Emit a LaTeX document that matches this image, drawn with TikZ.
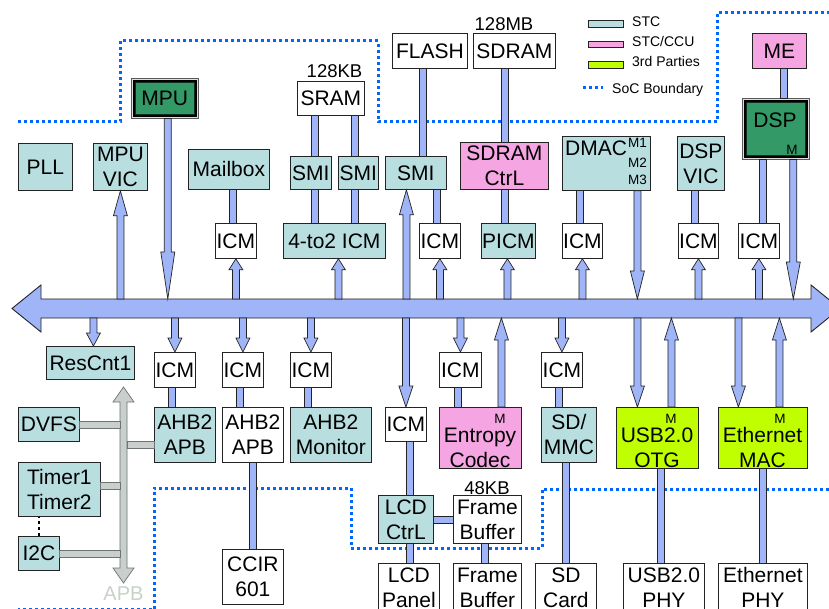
\documentclass[tikz,border=0pt]{standalone}
\usepackage{fontspec}
\setmainfont{Liberation Sans}
\usetikzlibrary{calc}
\definecolor{stc}{RGB}{184,222,224}
\definecolor{ccu}{RGB}{245,165,225}
\definecolor{third}{RGB}{191,255,0}
\definecolor{dspg}{RGB}{51,153,102}
\definecolor{busb}{RGB}{160,180,248}
\definecolor{apbg}{RGB}{200,207,205}
\definecolor{apbe}{RGB}{110,115,115}
\definecolor{socb}{RGB}{0,102,255}
\definecolor{edge}{RGB}{35,35,35}
\definecolor{apbtxt}{RGB}{200,210,200}
\newcommand{\bx}[7]{\node[#1, minimum width={(#5-#3)*1pt}, minimum height={(#6-#4)*1pt}, anchor=north west] (#2) at (#3,#4) {#7};}
\tikzset{
  big/.style={font=\fontsize{21}{25}\selectfont},
  mid/.style={font=\fontsize{18.5}{21}\selectfont, inner sep=0pt},
  sml/.style={font=\fontsize{13.5}{15}\selectfont, inner sep=0pt},
  leg/.style={font=\fontsize{14}{16}\selectfont, inner sep=0pt},
  blk/.style={big, draw=edge, line width=0.8pt, inner sep=0pt, align=center},
  wbox/.style={blk, fill=white},
  tbox/.style={blk, fill=stc},
  pbox/.style={blk, fill=ccu},
  gbox/.style={blk, fill=third},
  txt/.style={big, inner sep=0pt, align=center},
  soc/.style={socb, line width=3pt, dash pattern=on 3pt off 3pt},
  fat/.style={draw=edge, fill=busb, line width=0.7pt, line join=miter},
  shaft/.style={fat, to path={let \p1=(\tikztostart), \p2=(\tikztotarget) in
      (\x1-3.5pt,\y1) rectangle (\x1+3.5pt,\y2)}},
  hshaft/.style={fat, to path={let \p1=(\tikztostart), \p2=(\tikztotarget) in
      (\x1,\y1-3.5pt) rectangle (\x2,\y1+3.5pt)}},
  gshaft/.style={hshaft, fill=apbg, draw=apbe},
  adn/.style={fat, to path={let \p1=(\tikztostart), \p2=(\tikztotarget) in
      (\x1-3.5pt,\y1) -- (\x1-3.5pt,\y2+#1pt) -- (\x1-7pt,\y2+#1pt) -- (\x1,\y2)
      -- (\x1+7pt,\y2+#1pt) -- (\x1+3.5pt,\y2+#1pt) -- (\x1+3.5pt,\y1) -- cycle}},
  aup/.style={fat, to path={let \p1=(\tikztostart), \p2=(\tikztotarget) in
      (\x1-3.5pt,\y1) -- (\x1-3.5pt,\y2-#1pt) -- (\x1-7pt,\y2-#1pt) -- (\x1,\y2)
      -- (\x1+7pt,\y2-#1pt) -- (\x1+3.5pt,\y2-#1pt) -- (\x1+3.5pt,\y1) -- cycle}},
  bdn/.style={fat, to path={let \p1=(\tikztostart), \p2=(\tikztotarget) in
      (\x2-3.5pt,\y1) -- (\x2-3.5pt,\y2+#1pt) -- (\x2-7pt,\y2+#1pt) -- (\x2,\y2)
      -- (\x2+7pt,\y2+#1pt) -- (\x2+3.5pt,\y2+#1pt) -- (\x2+3.5pt,\y1) -- cycle}},
  bup/.style={fat, to path={let \p1=(\tikztostart), \p2=(\tikztotarget) in
      (\x2-3.5pt,\y1) -- (\x2-3.5pt,\y2-#1pt) -- (\x2-7pt,\y2-#1pt) -- (\x2,\y2)
      -- (\x2+7pt,\y2-#1pt) -- (\x2+3.5pt,\y2-#1pt) -- (\x2+3.5pt,\y1) -- cycle}},
}
\begin{document}
\begin{tikzpicture}[x=1pt,y=-1pt]
\useasboundingbox (0,0) rectangle (829,609);
\clip (0,0) rectangle (829,609);
\fill[white] (0,0) rectangle (829,609);

% SoC boundary
\draw[soc] (18,122) -- (120,122) -- (120,41) -- (378,41) -- (378,122) -- (717,122) -- (717,13) -- (835,13);
\draw[soc] (835,489) -- (542,489) -- (542,548) -- (351,548) -- (351,488) -- (154,488) -- (154,609.8) -- (18,609.8);

% legend
\bx{draw=edge,fill=stc,line width=0.8pt,inner sep=0pt}{lg1}{588}{20}{623}{27}{}
\bx{draw=edge,fill=ccu,line width=0.8pt,inner sep=0pt}{lg2}{588}{41}{623}{47}{}
\bx{draw=edge,fill=third,line width=1.2pt,inner sep=0pt}{lg3}{588}{61}{623}{68}{}
\coordinate (lg4a) at (583,88);
\coordinate (lg4b) at (603,88);
\draw[soc] (lg4a) -- (lg4b);
\node[leg, anchor=base west] (lt1) at (632,26.7) {STC};
\node[leg, anchor=base west] (lt2) at (632,46.5) {STC/CCU};
\node[leg, anchor=base west] (lt3) at (632,66.7) {3rd Parties};
\node[leg, anchor=base west] (lt4) at (612,93.5) {SoC Boundary};

% main bus
\draw[fat, line width=0.9pt] (12,308.5) -- (41,285) -- (41,299) -- (811,299) -- (811,285) -- (840,308.5)
  -- (811,332) -- (811,318) -- (41,318) -- (41,332) -- cycle;
\coordinate (bt) at (0,299);
\coordinate (bb) at (0,318);

% APB bus
\draw[fill=apbg, draw=apbe, line width=0.7pt] (123.5,387) -- (134,402) -- (127,402) -- (127,568) -- (134,568)
  -- (123.5,583) -- (113,568) -- (120,568) -- (120,402) -- (113,402) -- cycle;
\coordinate (apbL) at (120,0);
\coordinate (apbR) at (127,0);
\node[font=\fontsize{20}{22}\selectfont, text=apbtxt, inner sep=0pt] (apblab) at (123.5,594) {APB};

% top row
\bx{tbox}{pll}{18}{143}{72}{190}{PLL}
\bx{tbox}{mpuvic}{93}{143}{147}{190}{MPU\\VIC}
\bx{tbox}{mailbox}{188}{149}{269}{189}{Mailbox}
\bx{wbox}{icmA}{215}{223}{256}{258}{ICM}
\bx{wbox}{sram}{297}{81}{364}{115}{SRAM}
\node[mid, anchor=base] (kb128) at (334.5,78) {128KB};
\bx{tbox}{smi1}{290}{156}{331}{189}{SMI}
\bx{tbox}{smi2}{338}{156}{378}{189}{SMI}
\bx{tbox}{icm42}{283}{223}{385}{258}{4-to2 ICM}
\bx{tbox}{smi3}{385}{156}{446}{189}{SMI}
\bx{wbox}{flash}{392}{33}{467}{68}{FLASH}
\bx{wbox}{sdram}{473}{33}{555}{68}{SDRAM}
\node[mid, anchor=base] (mb128) at (504,30.7) {128MB};
\bx{wbox}{icmB}{419}{223}{460}{258}{ICM}
\bx{pbox}{sdctrl}{460}{142}{548}{189}{SDRAM\\CtrL}
\bx{tbox}{picm}{481}{223}{535}{258}{PICM}
\bx{tbox}{dmac}{562}{136}{650}{190}{}
\node[big, inner sep=0pt, anchor=base west] (dmact) at (565,156) {DMAC};
\node[sml] (m1) at (637.5,143) {M1};
\node[sml] (m2) at (637.5,162.5) {M2};
\node[sml] (m3) at (637.5,179.5) {M3};
\bx{wbox}{icmC}{562}{223}{602}{258}{ICM}
\bx{tbox}{dspvic}{677}{136}{724}{190}{DSP\\VIC}
\bx{wbox}{icmD}{678}{223}{718}{258}{ICM}
\bx{pbox}{me}{752}{33}{806}{68}{ME}
\bx{wbox}{icmE}{738}{223}{779}{258}{ICM}

% MPU (double frame)
\bx{draw=gray!70!black, fill=gray!25, line width=0.6pt, inner sep=0pt}{mpu}{131}{78}{198}{118}{}
\fill[black] ([shift={(1.8pt,-1.8pt)}]mpu.north west) rectangle ([shift={(-1.8pt,1.8pt)}]mpu.south east);
\draw[fill=dspg, draw=black!70!dspg, line width=0.8pt] ([shift={(4pt,-4pt)}]mpu.north west) rectangle ([shift={(-4pt,4pt)}]mpu.south east);
\node[txt] (mput) at (mpu.center) {MPU};

% DSP (double frame)
\bx{draw=gray!70!black, fill=gray!25, line width=0.6pt, inner sep=0pt}{dsp}{742}{98}{809}{159}{}
\fill[black] ([shift={(1.8pt,-1.8pt)}]dsp.north west) rectangle ([shift={(-1.8pt,1.8pt)}]dsp.south east);
\draw[fill=dspg, draw=black!70!dspg, line width=0.8pt] ([shift={(4pt,-4pt)}]dsp.north west) rectangle ([shift={(-4pt,4pt)}]dsp.south east);
\node[txt] (dspt) at (775,120) {DSP};
\node[sml] (dspm) at (792,150) {M};

% below bus
\bx{tbox}{rescnt}{46}{346}{134}{379}{ResCnt1}
\bx{wbox}{icm1}{154}{352}{195}{387}{ICM}
\bx{wbox}{icm2}{222}{352}{263}{387}{ICM}
\bx{wbox}{icm3}{290}{352}{331}{387}{ICM}
\bx{tbox}{ahbA}{154}{407}{215}{462}{AHB2\\APB}
\bx{wbox}{ahbB}{222}{407}{283}{462}{AHB2\\APB}
\bx{tbox}{ahbM}{290}{407}{371}{462}{AHB2\\Monitor}
\bx{wbox}{ccir}{222}{549}{283}{604}{CCIR\\601}
\bx{tbox}{dvfs}{18}{407}{79}{441}{DVFS}
\bx{tbox}{timer}{18}{462}{100}{516}{Timer1\\Timer2}
\bx{tbox}{i2c}{18}{536}{59}{570}{I2C}
\bx{wbox}{icm4}{385}{407}{426}{441}{ICM}
\bx{tbox}{lcdc}{378}{495}{433}{543}{LCD\\CtrL}
\bx{wbox}{fb}{453}{495}{521}{543}{Frame\\Buffer}
\node[mid, anchor=base] (kb48) at (487,494.5) {48KB};
\bx{wbox}{lcdp}{378}{563}{439}{611}{LCD\\Panel}
\bx{wbox}{fb2}{453}{563}{521}{611}{Frame\\Buffer}
\bx{pbox}{ent}{439}{407}{521}{468}{}
\node[txt] (entt) at (480,448) {Entropy\\Codec};
\node[sml] (entm) at (500,419) {M};
\bx{wbox}{icm5}{439}{352}{481}{387}{ICM}
\bx{wbox}{icm6}{541}{352}{582}{387}{ICM}
\bx{tbox}{sdmmc}{541}{407}{596}{462}{SD/\\MMC}
\bx{wbox}{sdcard}{535}{563}{596}{611}{SD\\Card}
\bx{gbox}{usb}{616}{407}{698}{468}{}
\node[txt] (usbt) at (657,447.5) {USB2.0\\OTG};
\node[sml] (usbm) at (671,419) {M};
\bx{wbox}{usbphy}{623}{563}{704}{611}{USB2.0\\PHY}
\bx{gbox}{eth}{718}{407}{807}{468}{}
\node[txt] (etht) at (762.5,447.5) {Ethernet\\MAC};
\node[sml] (ethm) at (780,419) {M};
\bx{wbox}{ethphy}{718}{563}{807}{611}{Ethernet\\PHY}

% dotted between timers and I2C
\draw[line width=2.5pt, dash pattern=on 3pt off 3pt] (i2c.north) -- (i2c.north |- timer.south);

% APB links
\draw[gshaft] (dvfs.east) to (apbL);
\draw[gshaft] ([yshift=-9.5pt]ahbA.west) to (apbR);
\draw[gshaft] ([yshift=4pt]timer.east) to (apbL);
\draw[gshaft] (i2c.east) to (apbL);

% connectors above bus
\draw[adn=47] ([xshift=3pt]mpu.south) to (bt);
\draw[bup=25] (bt) to (mpuvic.south);
\draw[bup=11] (bt) to (icmA.south);
\draw[shaft] ([xshift=-3.5pt]icmA.north) to (mailbox.south);
\draw[shaft] ([xshift=3.5pt]smi1.north) to (sram.south);
\draw[shaft] ([xshift=-4pt]smi2.north) to (sram.south);
\draw[shaft] ([xshift=3.5pt]smi1.south) to (icm42.north);
\draw[shaft] ([xshift=-4pt]smi2.south) to (icm42.north);
\draw[bup=11] (bt) to ([xshift=4pt]icm42.south);
\draw[shaft] ([xshift=6.5pt]smi3.north) to (flash.south);
\draw[bup=25] (bt) to ([xshift=-9.5pt]smi3.south);
\draw[shaft] ([xshift=-3.5pt]icmB.north) to (smi3.south);
\draw[bup=11] (bt) to (icmB.south);
\draw[shaft] (sdctrl.north) to (sdram.south);
\draw[shaft] (sdctrl.south) to (picm.north);
\draw[bup=11] (bt) to ([xshift=-1pt]picm.south);
\draw[shaft] ([xshift=-3pt]icmC.north) to (dmac.south);
\draw[bup=11] (bt) to (icmC.south);
\draw[adn=28] ([xshift=31pt]dmac.south) to (bt);
\draw[shaft] ([xshift=-4pt]icmD.north) to (dspvic.south);
\draw[bup=11] (bt) to (icmD.south);
\draw[shaft] ([xshift=4pt]me.south) to (dsp.north);
\draw[shaft] ([xshift=3.5pt]icmE.north) to (dsp.south);
\draw[bup=11] (bt) to (icmE.south);
\draw[adn=37] ([xshift=17.5pt]dsp.south) to (bt);

% connectors below bus
\draw[bdn=13] (bb) to ([xshift=3pt]rescnt.north);
\draw[bdn=14] (bb) to (icm1.north);
\draw[bdn=14] (bb) to (icm2.north);
\draw[bdn=14] (bb) to (icm3.north);
\draw[shaft] ([xshift=-3.5pt]icm1.south) to (ahbA.north);
\draw[shaft] ([xshift=-3.5pt]icm2.south) to (ahbB.north);
\draw[shaft] ([xshift=-3.5pt]icm3.south) to (ahbM.north);
\draw[shaft] (ahbB.south) to (ccir.north);
\draw[bdn=21] (bb) to (icm4.north);
\draw[shaft] ([xshift=3.5pt]icm4.south) to (lcdc.north);
\draw[shaft] ([xshift=3.5pt]lcdc.south) to (lcdp.north);
\draw[hshaft] (lcdc.east) to (fb.west);
\draw[shaft] ([xshift=-3pt]fb.south) to (fb2.north);
\draw[bdn=14] (bb) to (icm5.north);
\draw[shaft] ([xshift=-3pt]icm5.south) to (ent.north);
\draw[aup=22] ([xshift=21pt]ent.north) to (bb);
\draw[bdn=14] (bb) to (icm6.north);
\draw[shaft] ([xshift=-3.5pt]icm6.south) to (sdmmc.north);
\draw[shaft] ([xshift=-3.5pt]sdmmc.south) to (sdcard.north);
\draw[bdn=21] (bb) to ([xshift=-20pt]usb.north);
\draw[aup=22] ([xshift=14pt]usb.north) to (bb);
\draw[shaft] ([xshift=3pt]usb.south) to (usbphy.north);
\draw[bdn=21] (bb) to ([xshift=-24.5pt]eth.north);
\draw[aup=22] ([xshift=16.5pt]eth.north) to (bb);
\draw[shaft] (eth.south) to (ethphy.north);
\end{tikzpicture}
\end{document}
